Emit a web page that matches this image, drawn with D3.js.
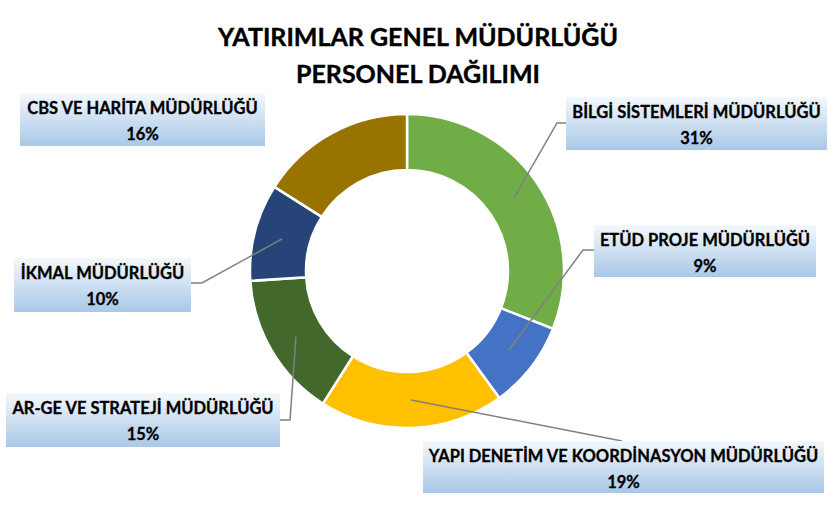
<!DOCTYPE html>
<html><head><meta charset="utf-8">
<script src="https://cdn.jsdelivr.net/npm/d3@7"></script>
<style>
html,body{margin:0;padding:0;background:#fff;}
svg{display:block;}
text{font-family:Lato,"Open Sans",sans-serif;font-weight:bold;}
</style></head>
<body>
<svg id="chart" width="839" height="514"></svg>
<script>
const titleLines = ["YATIRIMLAR GENEL MÜDÜRLÜĞÜ", "PERSONEL DAĞILIMI"];
const categories = ["BİLGİ SİSTEMLERİ MÜDÜRLÜĞÜ","ETÜD PROJE MÜDÜRLÜĞÜ","YAPI DENETİM VE KOORDİNASYON MÜDÜRLÜĞÜ","AR-GE VE STRATEJİ MÜDÜRLÜĞÜ","İKMAL MÜDÜRLÜĞÜ","CBS VE HARİTA MÜDÜRLÜĞÜ"];
const values = [31, 9, 19, 15, 10, 16];
const colors = ["#70ad47","#4472c4","#ffc000","#43682b","#264478","#997300"];

// label layout (box rect, leader elbow & end)
const boxes = [
  {x:566,y:97,w:261,h:53, leader:[[557,123],[566,123]]},
  {x:594,y:225,w:222,h:52, leader:[[583,250],[594,250]]},
  {x:423,y:441,w:401,h:52, leader:[[622,441]]},
  {x:6,y:393,w:274,h:54, leader:[[290,420],[280,420]]},
  {x:14,y:258,w:177,h:54, leader:[[202,283],[191,283]]},
  {x:20,y:93,w:245,h:53, leader:null}
];

const svg = d3.select("#chart");
const defs = svg.append("defs");
const grad = defs.append("linearGradient").attr("id","boxg").attr("x1",0).attr("y1",0).attr("x2",0).attr("y2",1);
grad.append("stop").attr("offset","0%").attr("stop-color","#f4f8fc");
grad.append("stop").attr("offset","100%").attr("stop-color","#a8c8e8");

// title
svg.append("g").selectAll("text").data(titleLines).join("text")
  .attr("x",418).attr("y",(d,i)=>46+i*37)
  .attr("text-anchor","middle").attr("font-size",25).attr("fill","#000")
  .attr("stroke","#000").attr("stroke-width",0.4)
  .text(d=>d);

const cx = 407, cy = 271, rOuter = 157, rInner = 101;
const pie = d3.pie().sort(null).value(d=>d)(values);
const arc = d3.arc().innerRadius(rInner).outerRadius(rOuter);
const g = svg.append("g").attr("transform",`translate(${cx},${cy})`);
g.selectAll("path").data(pie).join("path")
  .attr("d",arc).attr("fill",(d,i)=>colors[i])
  .attr("stroke","#fff").attr("stroke-width",2.5);

// leader lines
pie.forEach((d,i)=>{
  const b = boxes[i];
  if(!b.leader) return;
  const c = arc.centroid(d);
  const pts = [[c[0]+cx,c[1]+cy]].concat(b.leader);
  svg.append("path").attr("d",d3.line()(pts))
    .attr("fill","none").attr("stroke","#808080").attr("stroke-width",1.5);
});

// label boxes
const lg = svg.append("g").selectAll("g").data(pie).join("g")
  .attr("transform",(d,i)=>`translate(${boxes[i].x},${boxes[i].y})`);
lg.append("rect").attr("width",(d,i)=>boxes[i].w).attr("height",(d,i)=>boxes[i].h)
  .attr("fill","url(#boxg)");
lg.append("text").attr("x",(d,i)=>boxes[i].w/2).attr("y",21)
  .attr("text-anchor","middle").attr("font-size",16.5).attr("fill","#000")
  .attr("stroke","#000").attr("stroke-width",0.3)
  .text((d,i)=>categories[i]);
lg.append("text").attr("x",(d,i)=>boxes[i].w/2).attr("y",47)
  .attr("text-anchor","middle").attr("font-size",16.5).attr("fill","#000")
  .attr("stroke","#000").attr("stroke-width",0.3)
  .text((d,i)=>d3.format(".0%")(values[i]/d3.sum(values)));
</script>
</body></html>
